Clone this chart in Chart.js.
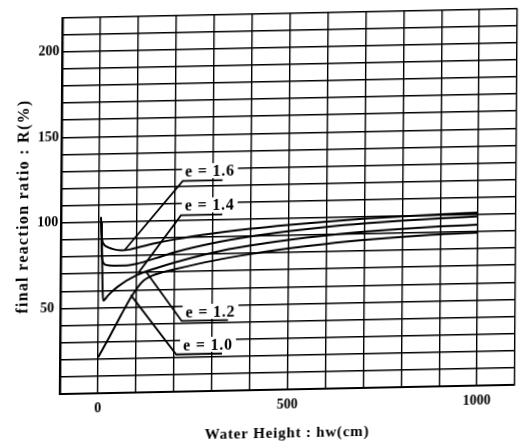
<!DOCTYPE html>
<html><head><meta charset="utf-8">
<script src="https://cdn.jsdelivr.net/npm/chart.js@4.4.1/dist/chart.umd.min.js"></script>
<style>
html,body{margin:0;padding:0;background:#fff;overflow:hidden;width:523px;height:443px}
#wrap{width:523px;height:443px;transform-origin:261.5px 221.5px;transform:matrix(1,-0.0203,-0.0071,1,0,0)}
canvas{display:block}
</style></head><body>
<div id="wrap"><canvas id="c" width="523" height="443"></canvas></div>
<script>
// ---- data (Water Height hw [cm] vs final reaction ratio R [%]) ----
const hwE16 = [5, 6, 8, 12, 20, 35, 60, 80, 100, 150, 200, 300, 400, 500, 600, 700, 800, 900, 1000];
const rE16  = [103, 96, 90, 87.3, 85.6, 84.2, 83.3, 83.6, 84.6, 87, 89, 92, 94.3, 96.1, 97.6, 98.8, 99.8, 100.5, 101];
const hwE14 = [6, 7, 9, 13, 20, 40, 80, 100, 150, 200, 300, 400, 500, 600, 700, 800, 900, 1000];
const rE14  = [100, 85, 78.5, 75.8, 74.8, 74.3, 74.5, 75.2, 78.2, 81.5, 86.3, 89.8, 92.4, 94.5, 96.1, 97.3, 98.2, 98.8];
const hwE12 = [7, 9, 11, 13, 16, 25, 50, 100, 150, 200, 300, 400, 500, 600, 700, 800, 900, 1000];
const rE12  = [100, 75, 58, 54, 54.5, 57, 62, 68.5, 72.3, 75.5, 80.8, 84.5, 87.3, 89.5, 91.2, 92.5, 93.4, 94];
const hwE10 = [0, 30, 60, 85, 105, 120, 140, 170, 200, 300, 400, 500, 600, 700, 800, 900, 1000];
const rE10  = [21, 33, 45.5, 55.5, 62, 65.5, 68, 70, 71.5, 76, 79.5, 82.3, 84.6, 86.4, 87.8, 88.8, 89.3];

// leader lines from each curve to its label
const leadE16X = [68, 220, 325],  leadE16Y = [83.4, 123, 123];
const leadE14X = [105, 216, 325], leadE14Y = [70, 103, 103];
const leadE12X = [125, 220, 342], leadE12Y = [70.4, 41.2, 41.2];
const leadE10X = [85, 206, 327],  leadE10Y = [57, 21.7, 21.7];

const labelTexts = ['e = 1.6', 'e = 1.4', 'e = 1.2', 'e = 1.0'];
const labelHw    = [226, 226, 230, 224];
const labelR     = [125.5, 105.5, 43.3, 24];

const xTickLabels = [0, 500, 1000];
const yTickLabels = [50, 100, 150, 200];

// ---- build ----
const pts = (xs, ys) => xs.map((v, i) => ({x: v, y: ys[i]}));
const curve = (xs, ys) => ({data: pts(xs, ys), borderColor: '#000', borderWidth: 2, pointRadius: 0,
  fill: false, cubicInterpolationMode: 'monotone'});
const leader = (xs, ys) => ({data: pts(xs, ys), borderColor: '#000', borderWidth: 1.8, pointRadius: 0,
  fill: false, tension: 0});

const labelFont = 'bold 16px "Liberation Serif"';
const labelPlugin = {
  id: 'elabels',
  beforeDraw(chart) {
    // letter-spaced axis titles, as in the printed original
    const spacing = {x: '0.8px', y: '1.3px'};
    for (const id of ['x', 'y']) {
      const s = chart.scales[id];
      if (s && !s._spaced) {
        const orig = s.drawTitle;
        s.drawTitle = function () {
          const c = this.ctx, prev = c.letterSpacing;
          c.letterSpacing = spacing[id];
          orig.apply(this, arguments);
          c.letterSpacing = prev || '0px';
        };
        s._spaced = true;
      }
    }
  },
  beforeDatasetsDraw(chart) {
    const {ctx, scales: {x, y}} = chart;
    ctx.save();
    ctx.font = labelFont;
    ctx.letterSpacing = '0.8px';
    ctx.fillStyle = '#fff';
    labelTexts.forEach((t, i) => {
      const px = x.getPixelForValue(labelHw[i]), py = y.getPixelForValue(labelR[i]);
      const w = ctx.measureText(t).width;
      ctx.fillRect(px - 3, py - 13, w + 6, 15);
    });
    ctx.restore();
  },
  afterDatasetsDraw(chart) {
    const {ctx, scales: {x, y}} = chart;
    ctx.save();
    ctx.font = labelFont;
    ctx.letterSpacing = '0.8px';
    ctx.fillStyle = '#000';
    ctx.textBaseline = 'alphabetic';
    labelTexts.forEach((t, i) => {
      ctx.fillText(t, x.getPixelForValue(labelHw[i]), y.getPixelForValue(labelR[i]));
    });
    ctx.restore();
  }
};

const tickFont = {family: '"Liberation Serif"', size: 14, weight: 'bold'};

new Chart(document.getElementById('c'), {
  type: 'line',
  data: {datasets: [
    curve(hwE16, rE16), curve(hwE14, rE14), curve(hwE12, rE12), curve(hwE10, rE10),
    leader(leadE16X, leadE16Y), leader(leadE14X, leadE14Y), leader(leadE12X, leadE12Y), leader(leadE10X, leadE10Y)
  ]},
  plugins: [labelPlugin],
  options: {
    responsive: false, animation: false, devicePixelRatio: 1,
    layout: {padding: {left: 0, right: 2.3, top: 13.5, bottom: 0}},
    plugins: {legend: {display: false}, tooltip: {enabled: false}},
    scales: {
      x: {
        type: 'linear', min: -100, max: 1100,
        afterFit: s => { s.height = 53.1; },
        grid: {color: '#000', lineWidth: 1.4, drawTicks: false},
        border: {display: true, color: '#000', width: 2},
        ticks: {stepSize: 100, autoSkip: false, maxRotation: 0, padding: 7, color: '#000', font: tickFont,
          callback: v => xTickLabels.includes(v) ? String(v) : ''},
        title: {display: true, text: 'Water Height : hw(cm)', color: '#000',
          font: {family: '"Liberation Serif"', size: 15, weight: 'bold'}, padding: {top: 0, bottom: 0}}
      },
      y: {
        type: 'linear', min: 0, max: 220,
        afterFit: s => { s.width = 61.2; },
        grid: {color: '#000', lineWidth: 1.4, drawTicks: false},
        border: {display: true, color: '#000', width: 2},
        ticks: {stepSize: 10, autoSkip: false, padding: 3, crossAlign: 'center', color: '#000', font: tickFont,
          callback: v => yTickLabels.includes(v) ? String(v) : ''},
        title: {display: true, text: 'final reaction ratio : R(%)', color: '#000',
          font: {family: '"Liberation Serif"', size: 16, weight: 'bold'}, padding: {top: 14, bottom: 0}}
      }
    }
  }
});
</script>
</body></html>
